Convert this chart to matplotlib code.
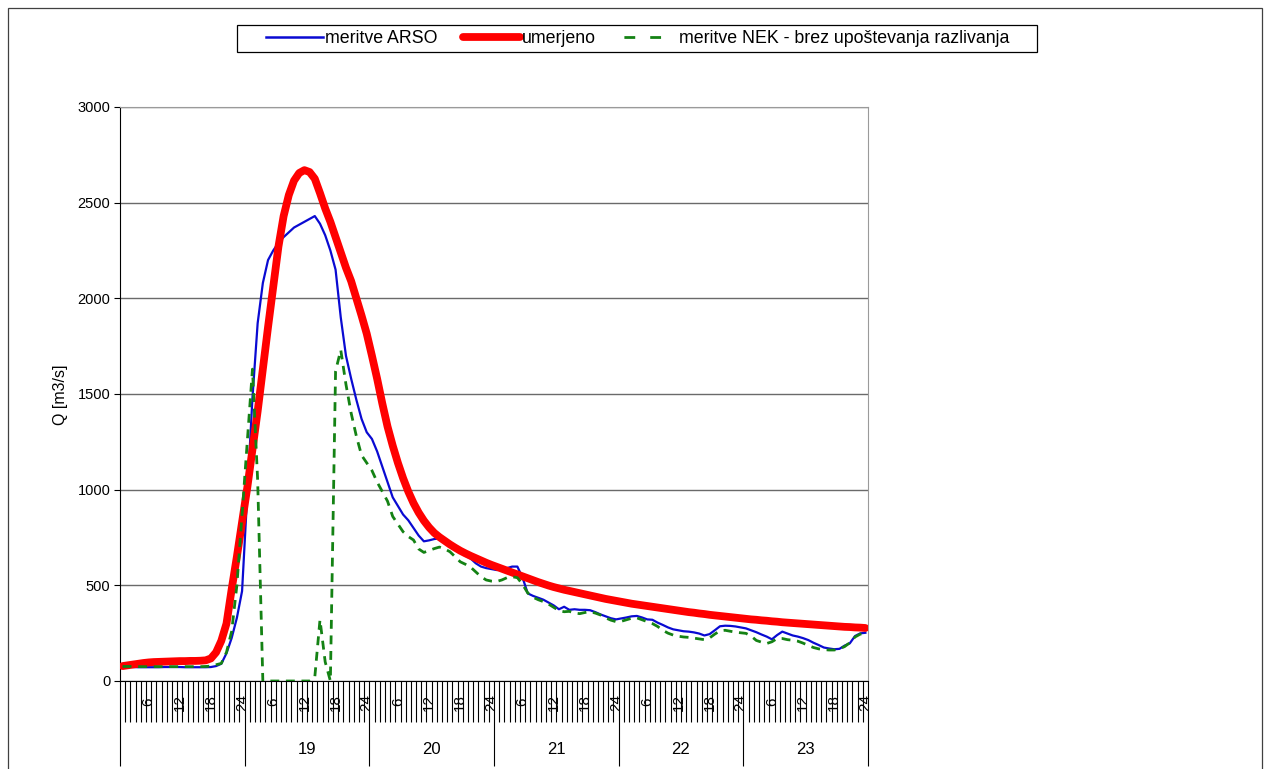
import matplotlib
matplotlib.use("Agg")
import matplotlib.pyplot as plt
import numpy as np
from matplotlib.lines import Line2D
from matplotlib.patches import Rectangle

plt.rcParams['font.family'] = ['Liberation Sans', 'DejaVu Sans']

# hourly discharge, one row per day (18. - 23.)
umerjeno = [
    78, 82, 86, 90, 94, 97, 99, 100, 101, 102, 103, 104, 104, 105, 105, 106, 108, 118, 150, 210, 300, 480, 650, 830,
    1010, 1210, 1410, 1630, 1850, 2060, 2270, 2430, 2540, 2615, 2655, 2670, 2660, 2625, 2550, 2470, 2400, 2320, 2240, 2160, 2090, 2000, 1910, 1815,
    1700, 1580, 1450, 1330, 1230, 1140, 1060, 990, 930, 880, 838, 803, 774, 752, 733, 714, 697, 681, 667, 654, 642, 630, 618, 607,
    597, 587, 577, 567, 557, 547, 537, 527, 517, 508, 499, 491, 484, 477, 471, 465, 459, 453, 447, 441, 435, 429, 424, 419,
    414, 409, 404, 400, 396, 392, 388, 384, 380, 376, 372, 368, 364, 360, 357, 353, 350, 346, 343, 340, 337, 334, 331, 328,
    325, 322, 320, 317, 315, 312, 310, 307, 305, 303, 301, 299, 297, 295, 293, 291, 289, 287, 285, 283, 282, 280, 279, 277,
]
arso = [
    75, 74, 73, 72, 72, 72, 72, 72, 73, 73, 73, 73, 72, 72, 72, 72, 72, 73, 78, 90, 145, 225, 330, 470,
    970, 1480, 1870, 2080, 2200, 2250, 2290, 2320, 2345, 2370, 2385, 2400, 2415, 2430, 2390, 2330, 2250, 2150, 1900, 1700, 1580, 1470, 1370, 1300,
    1265, 1200, 1120, 1040, 960, 915, 870, 840, 800, 760, 730, 735, 742, 745, 730, 710, 690, 670, 655, 640, 615, 598, 590, 585,
    580, 582, 590, 598, 598, 540, 458, 445, 435, 425, 410, 395, 375, 388, 372, 375, 372, 372, 370, 360, 348, 338, 328, 322,
    327, 332, 338, 340, 332, 322, 320, 305, 293, 280, 270, 265, 260, 258, 254, 248, 238, 245, 265, 286, 289, 288, 285, 280,
    275, 265, 255, 243, 232, 218, 240, 258, 248, 238, 232, 224, 214, 200, 188, 175, 170, 166, 168, 185, 197, 235, 249, 252,
]
nek = [
    76, 76, 76, 75, 75, 75, 75, 75, 75, 75, 75, 75, 75, 75, 75, 75, 76, 78, 85, 92, 150, 260, 500, 870,
    1250, 1630, 1050, 0, 0, 0, 0, 0, 0, 0, 0, 0, 0, 20, 320, 100, 0, 1620, 1730, 1550, 1400, 1280, 1180, 1140,
    1100, 1040, 990, 940, 860, 820, 780, 755, 737, 690, 672, 682, 692, 700, 690, 676, 650, 623, 610, 595, 570, 545, 528, 522,
    520, 528, 540, 545, 540, 505, 460, 438, 425, 415, 402, 385, 368, 362, 364, 355, 352, 358, 362, 355, 345, 330, 318, 310,
    312, 320, 328, 330, 320, 310, 300, 285, 265, 250, 240, 234, 230, 228, 224, 220, 216, 225, 245, 262, 265, 260, 255, 252,
    249, 235, 212, 203, 196, 205, 222, 222, 216, 213, 208, 198, 186, 175, 168, 164, 162, 162, 168, 180, 200, 230, 245, 248,
]
days = [18, 19, 20, 21, 22, 23]
hour_labels = [6, 12, 18, 24]

BLUE, RED, GREEN = '#0a0ad2', '#ff0000', '#148214'
DASH = (0, (3.2, 2.4))

W, H = 1270, 769
fig = plt.figure(figsize=(W / 100, H / 100), dpi=100)
ax = fig.add_axes([120 / W, 1 - 681 / H, 748 / W, 574 / H])

n = len(umerjeno)
x = np.arange(n) + 0.5

ax.plot(x, arso, color=BLUE, lw=1.6, zorder=3)
ax.plot(x, umerjeno, color=RED, lw=5.6, zorder=4, solid_capstyle='round', solid_joinstyle='round')
ax.plot(x, nek, color=GREEN, lw=2.0, ls=DASH, zorder=5)

ax.set_xlim(0, n)
ax.set_ylim(0, 3000)
ax.set_yticks(np.arange(0, 3001, 500))
ax.tick_params(axis='y', length=4, width=0.8, labelsize=10.5, pad=3)
ax.yaxis.grid(True, color='#6a6a6a', lw=1.0)
ax.set_axisbelow(True)

# hourly ticks plus long day separators
ax.set_xticks(np.arange(0, n + 1, 24))
ax.set_xticks(np.arange(0, n + 1), minor=True)
ax.tick_params(axis='x', which='major', length=61, width=0.8, labelbottom=False)
ax.tick_params(axis='x', which='minor', length=29.5, width=0.8, labelbottom=False)

for s in ['top', 'right']:
    ax.spines[s].set_color('#9a9a9a')
for s in ['left', 'bottom']:
    ax.spines[s].set_color('black')

tr = ax.get_xaxis_transform()
for d in range(len(days)):
    for h in hour_labels:
        ax.text(d * 24 + h - 0.5, -0.037, str(h), transform=tr, rotation=90,
                ha='center', va='center', fontsize=11)
    if d > 0:
        ax.text(d * 24 + 12, -0.12, str(days[d]), transform=tr,
                ha='center', va='center', fontsize=12)

fig.text(60 / W, 1 - 395 / H, 'Q [m3/s]', rotation=90, ha='center', va='center', fontsize=11.5)

# legend: entries without frame, box drawn separately
handles = [
    Line2D([], [], color=BLUE, lw=1.8),
    Line2D([], [], color=RED, lw=5.6, solid_capstyle='round'),
    Line2D([], [], color=GREEN, lw=2.0, ls=(0, (0.001, 1.4, 3.9, 5.4, 3.9, 30))),
]
labels = ['meritve ARSO', 'umerjeno', 'meritve NEK - brez upoštevanja razlivanja']
fig.legend(handles, labels, loc='center', bbox_to_anchor=(638 / W, 1 - 38.5 / H), ncol=3,
           frameon=False, fontsize=12.8, handlelength=3.2, handletextpad=0.11,
           columnspacing=1.4, borderpad=0.2)
fig.patches.append(Rectangle((237 / W, 1 - 52 / H), 800 / W, 27 / H, transform=fig.transFigure,
                             fill=False, edgecolor='black', lw=0.9))

# chart area border
fig.patches.append(Rectangle((8 / W, -0.01), (1262 - 8) / W, 1 - 8 / H + 0.01,
                             transform=fig.transFigure, fill=False, edgecolor='#404040', lw=0.9))

fig.savefig('out.png', dpi=100)
